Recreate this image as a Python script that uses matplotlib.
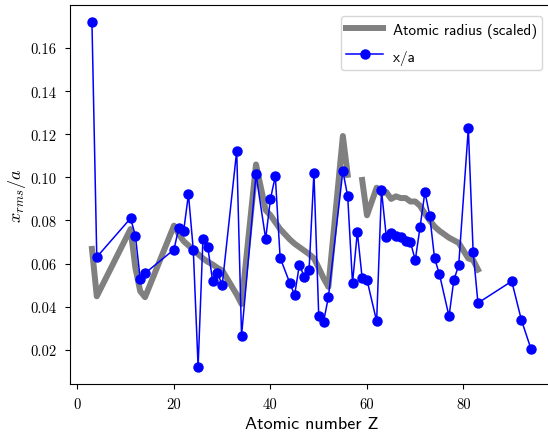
import numpy as np
import matplotlib
matplotlib.use("Agg")
import matplotlib.pyplot as plt

# Atomic numbers of the elements shown
Z = [3, 4, 11, 12, 13, 14, 20, 21, 22, 23, 24, 25, 26, 27, 28, 29, 30, 33, 34,
     37, 39, 40, 41, 42, 44, 45, 46, 47, 48, 49, 50, 51, 52, 55, 56, 57, 58, 59,
     60, 62, 63, 64, 65, 66, 67, 68, 69, 70, 71, 72, 73, 74, 75, 77, 78, 79, 81,
     82, 83, 90, 92, 94]

# x_rms / a
x_over_a = [0.172, 0.063, 0.081, 0.073, 0.053, 0.0555, 0.0665, 0.0766, 0.0751,
            0.0921, 0.0664, 0.0121, 0.0715, 0.0676, 0.0521, 0.0555, 0.0502,
            0.1123, 0.0265, 0.1014, 0.0715, 0.0901, 0.1005, 0.0627, 0.0510,
            0.0454, 0.0595, 0.0537, 0.0571, 0.1020, 0.0358, 0.0330, 0.0444,
            0.1030, 0.0912, 0.0509, 0.0746, 0.0532, 0.0524, 0.0332, 0.0940,
            0.0725, 0.0741, 0.0727, 0.0723, 0.0704, 0.0700, 0.0616, 0.0769,
            0.0932, 0.0823, 0.0625, 0.0552, 0.0355, 0.0524, 0.0591, 0.1227,
            0.0653, 0.0417, 0.0518, 0.0338, 0.0203]

# Atomic radius (scaled); nan where not drawn
radius_scaled = [0.0668, 0.0448, 0.0760, 0.0580, 0.0472, 0.0444, 0.0776, 0.0736,
                 0.0704, 0.0684, 0.0664, 0.0644, 0.0624, 0.0608, 0.0596, 0.0580,
                 0.0568, 0.0456, 0.0412, 0.1060, 0.0848, 0.0824, 0.0792, 0.0760,
                 0.0712, 0.0692, 0.0676, 0.0660, 0.0644, 0.0624, 0.0580, 0.0532,
                 0.0492, 0.1192, 0.1012, np.nan, np.nan, 0.0988, 0.0824, 0.0952,
                 0.0924, 0.0932, 0.0900, 0.0912, 0.0904, 0.0904, 0.0888, 0.0888,
                 0.0868, 0.0832, 0.0800, 0.0772, 0.0752, 0.0720, 0.0708, 0.0696,
                 0.0624, 0.0616, 0.0572, np.nan, np.nan, np.nan]

xticks = [0, 20, 40, 60, 80]
yticks = [0.02, 0.04, 0.06, 0.08, 0.10, 0.12, 0.14, 0.16]

plt.rcParams['mathtext.fontset'] = 'cm'

fig = plt.figure(figsize=(5.48, 4.39), dpi=100)
ax = fig.add_axes([70 / 548, 54 / 439, 483 / 548, 379 / 439])

ax.plot(Z, radius_scaled, color='#808080', lw=4.3, label='Atomic radius (scaled)', zorder=1)
ax.plot(Z, x_over_a, color='blue', marker='o', markersize=6.5, lw=1.1, label='x/a', zorder=2)

ax.set_xticks(xticks)
ax.set_yticks(yticks)
ax.set_xticklabels([str(t) for t in xticks], fontfamily='cmr10', fontsize=10.5)
ax.set_yticklabels(['%.2f' % t for t in yticks], fontfamily='cmr10', fontsize=10.5)
ax.tick_params(axis='both', pad=6)

ax.set_xlabel('Atomic number Z', fontfamily='cmss10', fontsize=13)
ax.set_ylabel(r'$x_{rms}/a$', fontsize=13, labelpad=2)

ax.legend(loc='upper right', prop={'family': 'cmss10', 'size': 11},
          borderpad=0.35, labelspacing=0.6, handlelength=2.4, handleheight=1.3,
          handletextpad=0.65, borderaxespad=0.7)

fig.savefig('out.png', dpi=100)
